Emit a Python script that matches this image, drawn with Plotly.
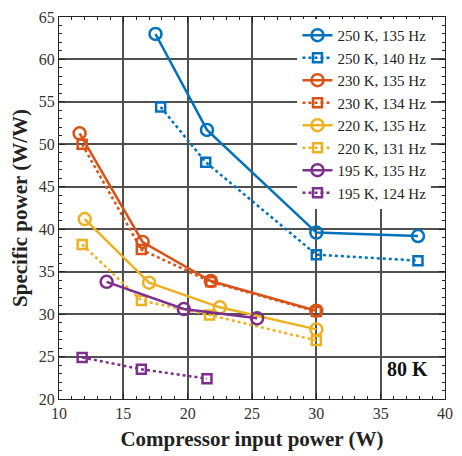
import plotly.graph_objects as go

# Data
x_250_135 = [17.5, 21.5, 30.0, 37.9]
y_250_135 = [63.0, 51.7, 39.6, 39.2]
x_250_140 = [17.9, 21.4, 30.0, 37.9]
y_250_140 = [54.4, 47.9, 37.0, 36.3]
x_230_135 = [11.6, 16.5, 21.8, 30.0]
y_230_135 = [51.3, 38.5, 33.9, 30.4]
x_230_134 = [11.8, 16.4, 21.8, 30.0]
y_230_134 = [50.0, 37.6, 33.8, 30.3]
x_220_135 = [12.0, 17.0, 22.5, 30.0]
y_220_135 = [41.2, 33.7, 30.8, 28.2]
x_220_131 = [11.8, 16.4, 21.7, 30.0]
y_220_131 = [38.2, 31.6, 29.9, 26.9]
x_195_135 = [13.7, 19.7, 25.4]
y_195_135 = [33.8, 30.6, 29.5]
x_195_124 = [11.8, 16.4, 21.5]
y_195_124 = [24.9, 23.5, 22.4]

series = [
    ("250 K, 135 Hz", x_250_135, y_250_135, "#0072BD", "solid", "circle-open"),
    ("250 K, 140 Hz", x_250_140, y_250_140, "#0072BD", "dot", "square-open"),
    ("230 K, 135 Hz", x_230_135, y_230_135, "#D95319", "solid", "circle-open"),
    ("230 K, 134 Hz", x_230_134, y_230_134, "#D95319", "dot", "square-open"),
    ("220 K, 135 Hz", x_220_135, y_220_135, "#EDB120", "solid", "circle-open"),
    ("220 K, 131 Hz", x_220_131, y_220_131, "#EDB120", "dot", "square-open"),
    ("195 K, 135 Hz", x_195_135, y_195_135, "#7E2F8E", "solid", "circle-open"),
    ("195 K, 124 Hz", x_195_124, y_195_124, "#7E2F8E", "dot", "square-open"),
]

fig = go.Figure()
for name, xs, ys, col, dash, sym in series:
    fig.add_trace(go.Scatter(
        x=xs, y=ys, name=name, mode="lines+markers",
        line=dict(color=col, width=2.5, dash=dash),
        marker=dict(symbol=sym, size=12 if sym.startswith("circle") else 9,
                    color=col, line=dict(color=col, width=2.5)),
    ))

font = "Liberation Serif, Times New Roman, serif"
axis_common = dict(
    showgrid=True, gridcolor="#505050", gridwidth=1.6,
    showline=True, linecolor="#222222", linewidth=1, mirror="ticks",
    ticks="inside", ticklen=6, tickcolor="#222222",
    tickfont=dict(family=font, size=16, color="#333333"),
    zeroline=False,
)
fig.update_xaxes(range=[10, 40], dtick=5, tick0=10,
                 minor=dict(ticks="inside", dtick=1, ticklen=3, tickcolor="#222222", showgrid=False),
                 title=dict(text="<b>Compressor input power (W)</b>",
                            font=dict(family=font, size=21, color="#222222"), standoff=10),
                 **axis_common)
fig.update_yaxes(range=[20, 65], dtick=5, tick0=20,
                 minor=dict(ticks="inside", dtick=1, ticklen=3, tickcolor="#222222", showgrid=False),
                 title=dict(text="<b>Specific power (W/W)</b>",
                            font=dict(family=font, size=21, color="#222222"), standoff=5),
                 **axis_common)

fig.add_annotation(x=0.96, y=0.045, xref="paper", yref="paper", xanchor="right", yanchor="bottom",
                   text="<b>80 K</b>", showarrow=False,
                   font=dict(family=font, size=20, color="#111111"))

fig.update_layout(
    width=462, height=456,
    margin=dict(l=59, r=13, t=9, b=57),
    plot_bgcolor="white", paper_bgcolor="white",
    font=dict(family=font, size=15, color="#222222"),
    legend=dict(x=0.965, y=0.995, xanchor="right", yanchor="top",
                bgcolor="white", borderwidth=0,
                font=dict(family=font, size=15, color="#222222"),
                tracegroupgap=0, itemwidth=30),
)

fig.write_html("out.html")
